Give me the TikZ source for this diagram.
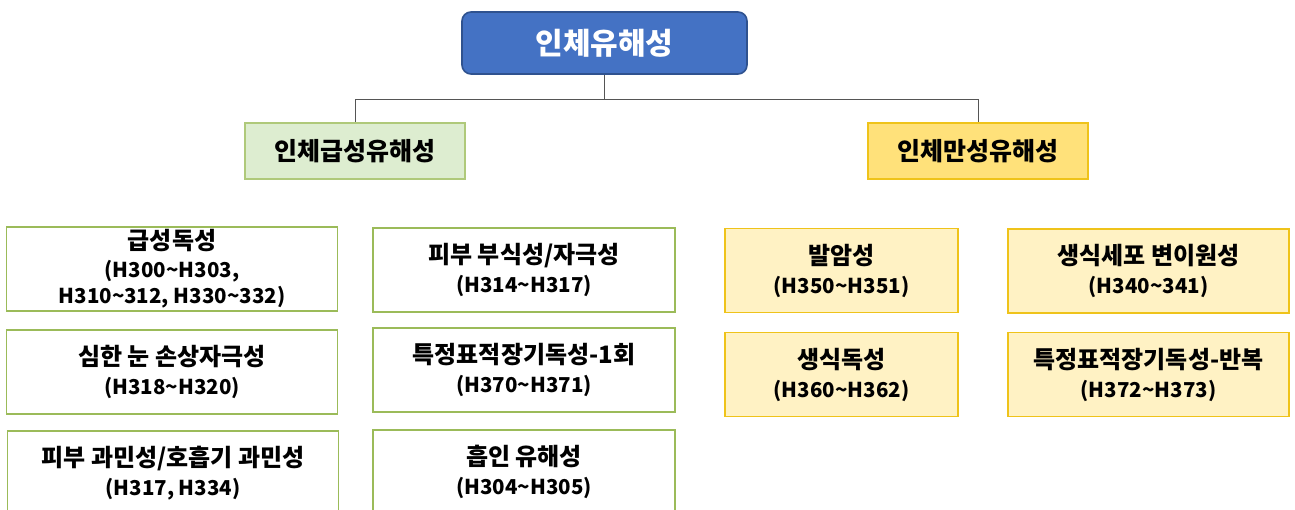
\documentclass[tikz,border=0pt]{standalone}
\usepackage{fontspec}
\setmainfont{Noto Sans CJK KR}
\usepackage{xcolor}
\definecolor{topblue}{HTML}{4472C4}
\definecolor{topedge}{HTML}{2F528F}
\definecolor{acutefill}{HTML}{DDEDD0}
\definecolor{acuteedge}{HTML}{9BBB59}
\definecolor{chronfill}{HTML}{FFE17A}
\definecolor{chronedge}{HTML}{EFC31A}
\definecolor{lightyellow}{HTML}{FFF2C4}
\definecolor{linkgray}{HTML}{555555}
\newcommand{\hcode}[1]{{\fontsize{20.5}{28}\selectfont #1}}

\begin{document}
\begin{tikzpicture}[x=1pt, y=-1pt, line width=1.6pt,
        box/.style = {draw, align=center, inner sep=0pt, font=\bfseries\fontsize{24}{29}\selectfont},
        acutebox/.style = {box, draw=acuteedge, fill=white, minimum height=84pt},
        chronbox/.style = {box, draw=chronedge, fill=lightyellow, minimum height=84pt}]
        \useasboundingbox (0,0) rectangle (1295,510);

        % Top
        \node[box, draw=topedge, fill=topblue, text=white, rounded corners=9pt,
              minimum width=285pt, minimum height=62pt,
              font=\bfseries\fontsize{30}{32}\selectfont] (top) at (604.5,43) {인체유해성};

        % Acute and chronic
        \node[box, draw=acuteedge!80, fill=acutefill, minimum width=220pt, minimum height=56pt,
              font=\bfseries\fontsize{25}{28}\selectfont] (acute) at (355,151) {인체급성유해성};
        \node[box, draw=chronedge, fill=chronfill, minimum width=220pt, minimum height=56pt,
              font=\bfseries\fontsize{25}{28}\selectfont] (chronic) at (978,151) {인체만성유해성};

        % Links
        \draw[linkgray, line width=1pt] (top.south) -- ++(0,25) -| (acute.north);
        \draw[linkgray, line width=1pt] (top.south) -- ++(0,25) -| (chronic.north);

        % Acute boxes
        \node[acutebox, minimum width=331pt] (acute1) at (172,269)
            {급성독성\\[-1pt]\hcode{(H300\textasciitilde H303,}\\[-3pt]\hcode{H310\textasciitilde 312, H330\textasciitilde 332)}};
        \node[acutebox, minimum width=331pt] (acute2) at (172,372)
            {심한 눈 손상자극성\\\hcode{(H318\textasciitilde H320)}};
        \node[acutebox, minimum width=331pt] (acute3) at (173,473)
            {피부 과민성/호흡기 과민성\\\hcode{(H317, H334)}};
        \node[acutebox, minimum width=302pt] (acute4) at (524,270)
            {피부 부식성/자극성\\\hcode{(H314\textasciitilde H317)}};
        \node[acutebox, minimum width=302pt] (acute5) at (524,370)
            {특정표적장기독성-1회\\\hcode{(H370\textasciitilde H371)}};
        \node[acutebox, minimum width=302pt] (acute6) at (524,472)
            {흡인 유해성\\\hcode{(H304\textasciitilde H305)}};

        % Chronic boxes
        \node[chronbox, minimum width=233pt] (chron1) at (841.5,270.5)
            {발암성\\\hcode{(H350\textasciitilde H351)}};
        \node[chronbox, minimum width=233pt] (chron2) at (841.5,374.5)
            {생식독성\\\hcode{(H360\textasciitilde H362)}};
        \node[chronbox, minimum width=281pt] (chron3) at (1148.5,271)
            {생식세포 변이원성\\\hcode{(H340\textasciitilde 341)}};
        \node[chronbox, minimum width=281pt] (chron4) at (1148.5,374.5)
            {특정표적장기독성-반복\\\hcode{(H372\textasciitilde H373)}};
    \end{tikzpicture}
\end{document}
